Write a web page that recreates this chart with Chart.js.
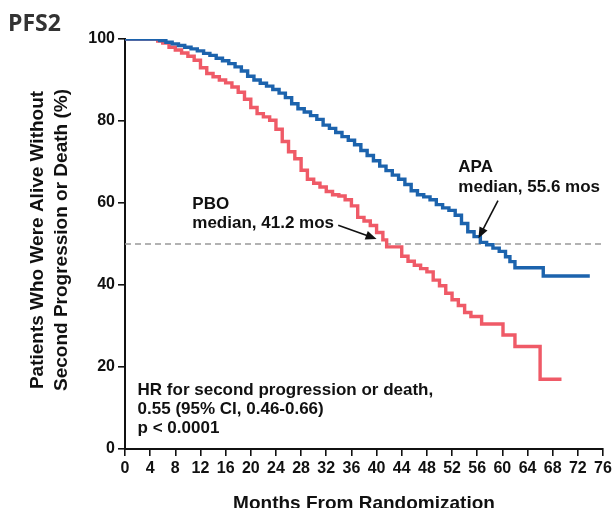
<!DOCTYPE html>
<html>
<head>
<meta charset="utf-8">
<script src="https://cdn.jsdelivr.net/npm/chart.js@4.4.1/dist/chart.umd.min.js"></script>
<style>
  html, body { margin: 0; padding: 0; background: #fff; }
  #wrap { width: 613px; height: 508px; position: relative; }
</style>
</head>
<body>
<div id="wrap"><canvas id="pfs2" width="613" height="508"></canvas></div>
<script>
// ---- data ----
const apaMonths = [0, 5.5, 6.5, 7.5, 8.5, 9.5, 10.5, 11.5, 12.5, 13.5, 14.5, 15.5, 16.5, 17.5, 18.5, 19.5,
  20.5, 21.5, 22.5, 23.5, 24.5, 25.5, 26.5, 27.5, 28.5, 29.5, 30.5, 31.5, 32.5, 33.5, 34.5, 35.5,
  36.5, 37.5, 38.5, 39.5, 40.5, 41.5, 42.5, 43.5, 44.5, 45.5, 46.5, 47.5, 48.5, 49.5, 50.5, 51.5,
  52.5, 53.5, 54.5, 55.5, 56.5, 57.5, 58.5, 59.5, 60.5, 61.2, 62.0, 66.5, 73.9]
const apaPct = [100, 99.6, 99.2, 98.8, 98.4, 98.0, 97.6, 97.1, 96.5, 96.0, 95.3, 94.7, 94.0, 93.2, 92.2, 90.9,
  90.0, 89.2, 88.5, 87.7, 86.8, 85.7, 84.2, 83.0, 82.2, 81.3, 80.4, 79.0, 78.2, 77.2, 76.2, 75.3,
  74.2, 72.8, 71.6, 70.3, 69.0, 67.9, 66.8, 65.8, 64.5, 63.0, 62.0, 61.5, 60.8, 59.6, 58.8, 58.2,
  57.0, 55.0, 53.0, 51.8, 50.4, 49.8, 49.0, 48.2, 46.9, 45.7, 44.2, 42.2, 42.2]

const pboMonths = [0, 5.2, 6, 7, 8, 9, 10, 11, 12, 13, 14, 15, 16, 17, 18, 19, 20, 21, 22, 23, 24, 25,
  26, 27, 28, 29, 30, 31, 32, 33, 34, 35, 36, 37, 38, 39, 40, 41, 41.6, 44.0, 45, 46, 47, 48, 49,
  50, 51, 52, 53, 54, 55, 56.7, 60.1, 62.0, 66.0, 69.4]
const pboPct = [100, 99.5, 99.0, 98.0, 97.3, 96.6, 95.8, 94.8, 93.0, 91.6, 90.8, 90.0, 89.3, 88.3, 87.0, 85.3,
  83.3, 81.8, 81.0, 80.2, 78.0, 75.0, 72.5, 70.8, 68.0, 65.8, 64.8, 63.9, 62.8, 62.0, 61.7, 60.8,
  59.3, 56.5, 55.6, 54.5, 52.8, 51.0, 49.3, 47.0, 45.8, 44.8, 44.0, 43.2, 41.2, 39.8, 38.0, 36.4,
  35.0, 33.3, 32.3, 30.5, 27.8, 25.0, 17.0, 17.0]

const medianLevel = 50
const xTicksMax = 76
const yTicksMax = 100

const panelLabel = "PFS2"
const yTitle = ["Patients Who Were Alive Without", "Second Progression or Death (%)"]
const xTitle = "Months From Randomization"
const pboNote = ["PBO", "median, 41.2 mos"]
const apaNote = ["APA", "median, 55.6 mos"]
const hrNote = ["HR for second progression or death,", "0.55 (95% CI, 0.46-0.66)", "p < 0.0001"]

const BLUE = "#1c63ad"
const RED = "#ef5a67"
const INK = "#111"
const FONT = "'Liberation Sans', Arial, Helvetica, sans-serif"

function toPoints(xs, ys) {
  return xs.map((m, i) => ({ x: m, y: ys[i] }))
}

// ---- arrow helper ----
function drawArrow(ctx, x1, y1, x2, y2) {
  const ang = Math.atan2(y2 - y1, x2 - x1)
  const head = 11, half = 4.5
  ctx.save()
  ctx.strokeStyle = INK
  ctx.fillStyle = INK
  ctx.lineWidth = 1.6
  ctx.beginPath()
  ctx.moveTo(x1, y1)
  ctx.lineTo(x2 - head * 0.8 * Math.cos(ang), y2 - head * 0.8 * Math.sin(ang))
  ctx.stroke()
  ctx.beginPath()
  ctx.moveTo(x2, y2)
  ctx.lineTo(x2 - head * Math.cos(ang) + half * Math.sin(ang), y2 - head * Math.sin(ang) - half * Math.cos(ang))
  ctx.lineTo(x2 - head * Math.cos(ang) - half * Math.sin(ang), y2 - head * Math.sin(ang) + half * Math.cos(ang))
  ctx.closePath()
  ctx.fill()
  ctx.restore()
}

// ---- text + arrows + titles ----
const notesPlugin = {
  id: "notes",
  afterDraw(chart) {
    const { ctx, scales: { x, y }, chartArea } = chart
    const px = (m) => x.getPixelForValue(m)
    const py = (p) => y.getPixelForValue(p)

    ctx.save()
    ctx.fillStyle = INK
    ctx.textAlign = "left"
    ctx.textBaseline = "alphabetic"
    ctx.font = "bold 17px " + FONT

    // PBO note
    ctx.fillText(pboNote[0], px(10.7), py(58.5))
    ctx.fillText(pboNote[1], px(10.7), py(54.0))
    // APA note
    ctx.fillText(apaNote[0], px(53.0), py(67.5))
    ctx.fillText(apaNote[1], px(53.0), py(62.8))
    // HR note
    ctx.fillText(hrNote[0], px(2.0), py(13.2))
    ctx.fillText(hrNote[1], px(2.0), py(8.5))
    ctx.fillText(hrNote[2], px(2.0), py(3.9))

    drawArrow(ctx, px(33.9), py(54.6), px(40.0), py(51.2))
    drawArrow(ctx, px(59.3), py(60.6), px(56.2), py(51.4))

    // panel label
    ctx.fillStyle = "#333"
    ctx.font = "bold 23px 'Open Sans', 'Noto Sans', sans-serif"
    ctx.fillText(panelLabel, 8, 31)

    // axis titles
    ctx.fillStyle = INK
    ctx.font = "bold 19px " + FONT
    ctx.textAlign = "center"
    ctx.textBaseline = "middle"
    ctx.fillText(xTitle, (chartArea.left + chartArea.right) / 2, 504)

    const cy = (chartArea.top + chartArea.bottom) / 2 - 4
    ctx.translate(38, cy)
    ctx.rotate(-Math.PI / 2)
    ctx.fillText(yTitle[0], 0, 0)
    ctx.fillText(yTitle[1], 0, 24)
    ctx.restore()
  }
}

window.onload = () => {
  const ctx = document.getElementById("pfs2").getContext("2d")
  new Chart(ctx, {
    type: "line",
    data: {
      datasets: [
        {
          label: "APA",
          data: toPoints(apaMonths, apaPct),
          borderColor: BLUE,
          borderWidth: 3.4,
          stepped: "before",
          pointRadius: 0,
          fill: false,
          order: 1,
        },
        {
          label: "PBO",
          data: toPoints(pboMonths, pboPct),
          borderColor: RED,
          borderWidth: 3.4,
          stepped: "before",
          pointRadius: 0,
          fill: false,
          order: 2,
        },
        {
          label: "median",
          data: [{ x: 0, y: medianLevel }, { x: xTicksMax, y: medianLevel }],
          borderColor: "#999",
          borderWidth: 1.5,
          borderDash: [6, 4],
          pointRadius: 0,
          fill: false,
          order: 3,
        },
      ],
    },
    options: {
      responsive: false,
      animation: false,
      layout: { padding: { top: 39, right: 10, bottom: 0, left: 0 } },
      plugins: { legend: { display: false }, tooltip: { enabled: false } },
      scales: {
        x: {
          type: "linear",
          min: 0,
          max: xTicksMax,
          afterFit: (s) => { s.height = 59; s.paddingRight = 0; s.paddingLeft = 0 },
          border: { display: true, color: INK, width: 2 },
          grid: { drawOnChartArea: false, drawTicks: true, tickLength: 7, color: INK, lineWidth: 1.6 },
          ticks: { stepSize: 4, color: INK, padding: 3, maxRotation: 0, autoSkip: false,
            font: { family: FONT, size: 16, weight: "bold" } },
        },
        y: {
          min: 0,
          max: yTicksMax,
          afterFit: (s) => { s.width = 125 },
          border: { display: true, color: INK, width: 2 },
          grid: { drawOnChartArea: false, drawTicks: true, tickLength: 7, color: INK, lineWidth: 1.6 },
          ticks: { stepSize: 20, color: INK, padding: 3,
            font: { family: FONT, size: 16, weight: "bold" } },
        },
      },
    },
    plugins: [notesPlugin],
  })
}
</script>
</body>
</html>
